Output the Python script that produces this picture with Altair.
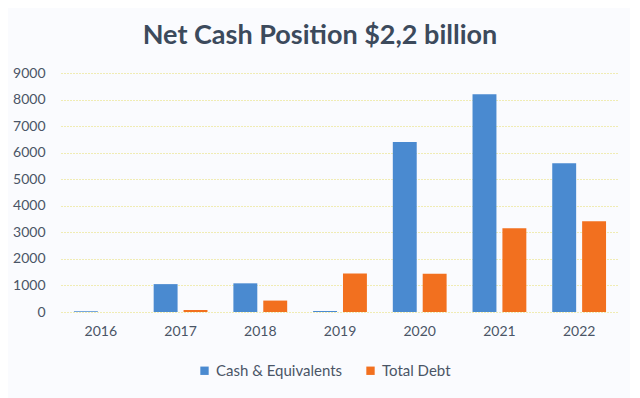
import altair as alt
import pandas as pd

years = ["2016", "2017", "2018", "2019", "2020", "2021", "2022"]
cash = [30, 1050, 1080, 40, 6400, 8200, 5600]
debt = [0, 80, 430, 1450, 1440, 3150, 3420]
series = ["Cash & Equivalents", "Total Debt"]
colors = ["#4a8ad0", "#f2701f"]

rows = []
for i, y in enumerate(years):
    rows.append({"year": y, "series": series[0], "value": cash[i]})
    rows.append({"year": y, "series": series[1], "value": debt[i]})
df = pd.DataFrame(rows)

font = "Lato"

chart = (
    alt.Chart(df)
    .mark_bar()
    .encode(
        x=alt.X("year:N", sort=years, title=None,
                scale=alt.Scale(paddingInner=0.325, paddingOuter=0.1625),
                axis=alt.Axis(labelAngle=0, ticks=False, domain=False, labelPadding=12,
                              labelFontSize=14, labelColor="#4a5566", labelFont=font)),
        xOffset=alt.XOffset("series:N", sort=series,
                            scale=alt.Scale(paddingInner=0.2)),
        y=alt.Y("value:Q", title=None,
                scale=alt.Scale(domain=[0, 9000], nice=False),
                axis=alt.Axis(values=list(range(0, 9001, 1000)), format="d", ticks=False,
                              domain=False, labelPadding=16, labelFontSize=14,
                              labelColor="#4a5566", labelFont=font, gridColor="#e6dc6a",
                              gridDash=[1, 2], gridWidth=1)),
        color=alt.Color("series:N", sort=series,
                        scale=alt.Scale(domain=series, range=colors),
                        legend=alt.Legend(title=None, orient="none", direction="horizontal",
                                          legendX=136, legendY=290, symbolType="square",
                                          symbolSize=70, labelFontSize=15, labelFont=font,
                                          labelColor="#4a5566", columnPadding=20,
                                          symbolStrokeWidth=0)),
    )
    .properties(
        width=558,
        height=239,
        autosize=alt.AutoSizeParams(type="none"),
        padding={"left": 53, "top": 65, "right": 11, "bottom": 86},
        background="#fafbfe",
        title=alt.TitleParams("Net Cash Position $2,2 billion", fontSize=27, font=font,
                              fontWeight="bold", color="#3c4a5c", dx=-20, offset=16),
    )
    .configure_view(stroke=None)
)

chart.save("out.html", embed_options={"renderer": "svg", "actions": False})
